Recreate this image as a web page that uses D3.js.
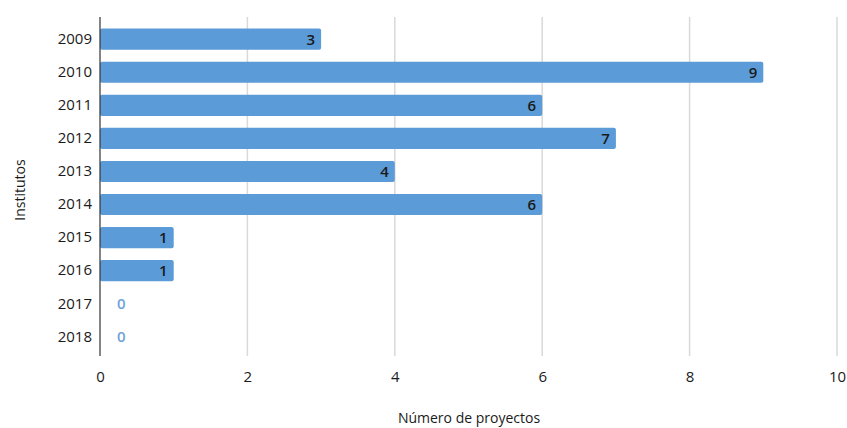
<!DOCTYPE html>
<html>
<head>
<meta charset="utf-8">
<script src="https://cdn.jsdelivr.net/npm/d3@7"></script>
<style>
  body { margin: 0; background: #fff; }
  text { font-family: "Open Sans", sans-serif; }
</style>
</head>
<body>
<svg id="chart" width="847" height="428"></svg>
<script>
// data
const years = ["2009", "2010", "2011", "2012", "2013", "2014", "2015", "2016", "2017", "2018"];
const projects = [3, 9, 6, 7, 4, 6, 1, 1, 0, 0];
const xTicks = [0, 2, 4, 6, 8, 10];

const data = years.map((y, i) => ({ year: y, value: projects[i] }));

const margin = { top: 22, right: 10, bottom: 74, left: 100 };
const width = 847, height = 428;
const svg = d3.select("#chart");

const x = d3.scaleLinear().domain([0, 10]).range([margin.left, width - margin.right]);
const y = d3.scaleBand().domain(years).range([margin.top, height - margin.bottom]).paddingInner(0.36).paddingOuter(0.2);

// gridlines
svg.append("g").selectAll("line")
  .data(xTicks.filter((d) => d > 0))
  .join("line")
  .attr("x1", (d) => x(d)).attr("x2", (d) => x(d))
  .attr("y1", 17).attr("y2", 356)
  .attr("stroke", "#d9d9d9").attr("stroke-width", 1.5);

// bars
svg.append("g").selectAll("rect")
  .data(data.filter((d) => d.value > 0))
  .join("rect")
  .attr("x", x(0))
  .attr("y", (d) => y(d.year))
  .attr("width", (d) => x(d.value) - x(0))
  .attr("height", y.bandwidth())
  .attr("rx", 2)
  .attr("fill", "#5b9bd8");

// value labels
svg.append("g").selectAll("text")
  .data(data)
  .join("text")
  .attr("x", (d) => d.value > 0 ? x(d.value) - 6 : x(0) + 17)
  .attr("y", (d) => y(d.year) + y.bandwidth() / 2)
  .attr("dy", "0.36em")
  .attr("text-anchor", (d) => d.value > 0 ? "end" : "start")
  .attr("font-size", 15)
  .attr("font-weight", 600)
  .attr("fill", (d) => d.value > 0 ? "#1a1a1a" : "#6fa3d8")
  .text((d) => d.value);

// y axis
const yAxis = svg.append("g")
  .attr("transform", `translate(${margin.left},0)`)
  .call(d3.axisLeft(y).tickSize(0).tickPadding(8));
yAxis.select(".domain").remove();
yAxis.selectAll("text").attr("font-size", 15).attr("font-weight", 500).attr("fill", "#1a1a1a")
  .style("font-family", "'Open Sans', sans-serif");
svg.append("line")
  .attr("x1", margin.left).attr("x2", margin.left)
  .attr("y1", 17).attr("y2", 356)
  .attr("stroke", "#333").attr("stroke-width", 1.2);

// x axis
const xAxis = svg.append("g")
  .attr("transform", `translate(0,356)`)
  .call(d3.axisBottom(x).tickValues(xTicks).tickSize(0).tickPadding(15));
xAxis.select(".domain").remove();
xAxis.selectAll("text").attr("font-size", 15).attr("font-weight", 500).attr("fill", "#1a1a1a")
  .style("font-family", "'Open Sans', sans-serif");

// titles
svg.append("text")
  .attr("x", 469).attr("y", 423)
  .attr("text-anchor", "middle")
  .attr("font-size", 14).attr("fill", "#1a1a1a")
  .text("Número de proyectos");

svg.append("text")
  .attr("transform", "translate(25,190) rotate(-90)")
  .attr("text-anchor", "middle")
  .attr("font-size", 14).attr("fill", "#1a1a1a")
  .text("Institutos");
</script>
</body>
</html>
